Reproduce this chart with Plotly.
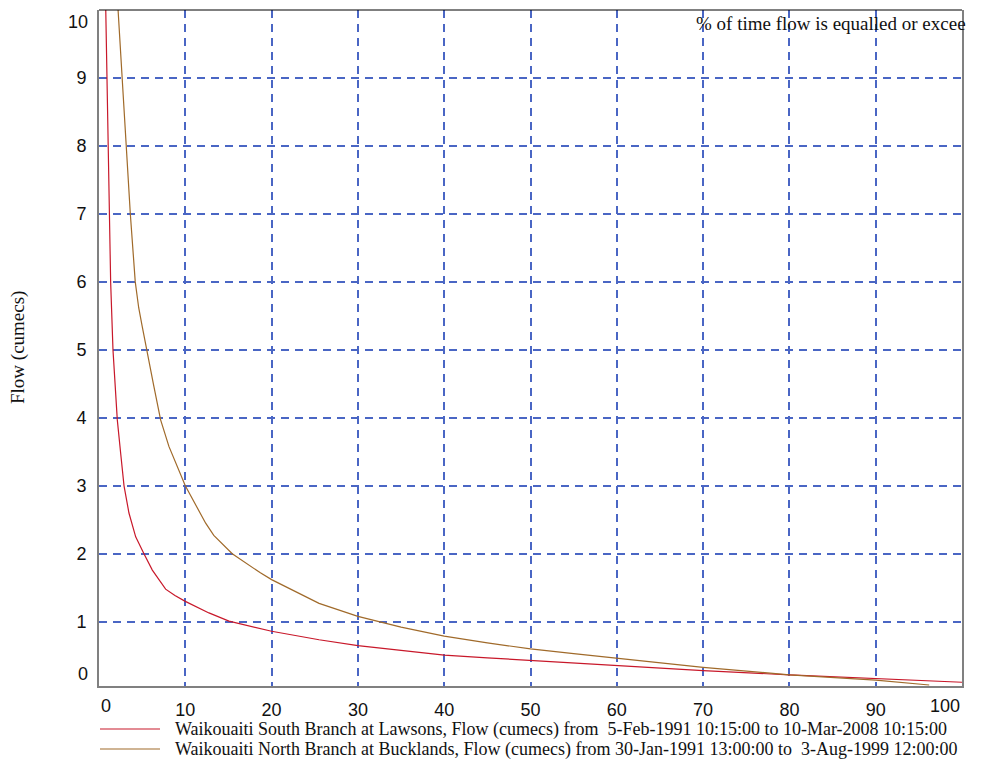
import plotly.graph_objects as go

# ---- data ----
south_name = "Waikouaiti South Branch at Lawsons, Flow (cumecs) from \u00a05-Feb-1991 10:15:00 to 10-Mar-2008 10:15:00"
north_name = "Waikouaiti North Branch at Bucklands, Flow (cumecs) from 30-Jan-1991 13:00:00 to \u00a03-Aug-1999 12:00:00"

south_pct = [0.5, 0.8, 0.92, 1.03, 1.19, 1.35, 1.62, 2.12, 2.51, 2.9, 3.47, 4.25, 5.21, 6.18, 7.72, 8.8, 10,
             12.74, 15.06, 20, 25.5, 30, 35, 40, 45, 50, 60, 70, 80, 90, 95, 98, 100]
south_flow = [12, 10, 9, 8, 7, 6, 5, 3.97, 3.48, 3.0, 2.6, 2.25, 2.0, 1.76, 1.48, 1.385, 1.3,
              1.13, 1.01, 0.86, 0.735, 0.65, 0.58, 0.51, 0.47, 0.43, 0.35, 0.28, 0.22, 0.17, 0.145, 0.13, 0.11]

north_pct = [1.5, 2.2, 2.67, 3.16, 3.63, 4.2, 4.6, 5.0, 5.5, 6.3, 7.14, 7.7, 8.1, 10, 12.36, 13.3, 15.44,
             18.7, 20, 25.5, 30, 35, 40, 45, 50, 55, 60, 70, 80, 85, 90, 96.2]
north_flow = [11.5, 10, 9, 8, 7, 6, 5.62, 5.35, 5, 4.5, 3.97, 3.73, 3.58, 3.0, 2.45, 2.27, 2.0,
              1.72, 1.62, 1.27, 1.08, 0.92, 0.79, 0.69, 0.60, 0.53, 0.46, 0.33, 0.22, 0.18, 0.14, 0.07]

x_ticks = [10, 20, 30, 40, 50, 60, 70, 80, 90]
y_ticks = [1, 2, 3, 4, 5, 6, 7, 8, 9]

red = "#c8182a"
brown = "#a06a2a"
grid = "#4a66c4"
serif = "Liberation Serif, Times New Roman, serif"
sans = "Liberation Sans, Arial, sans-serif"

fig = go.Figure()
fig.add_trace(go.Scatter(x=south_pct, y=south_flow, mode="lines", name=south_name,
                         line=dict(color=red, width=1.2), showlegend=False))
fig.add_trace(go.Scatter(x=north_pct, y=north_flow, mode="lines", name=north_name,
                         line=dict(color=brown, width=1.2), showlegend=False))

# the page body adds an 8px offset, so the figure is sized to the remaining window
OFF = 8
W, H = 979, 752
L, T = 91, 2
PW, PH = 863, 676
R, B = W - L - PW, H - T - PH

def px(xp):  # window pixel -> paper x
    return (xp - OFF - L) / PW

def py(yp):  # window pixel -> paper y
    return (T + PH - (yp - OFF)) / PH

fig.update_layout(
    width=W, height=H,
    margin=dict(l=L, r=R, t=T, b=B, pad=0),
    paper_bgcolor="white", plot_bgcolor="white",
    font=dict(family=sans, size=18, color="#111"),
    xaxis=dict(range=[0, 100], tickvals=x_ticks, showgrid=True, gridcolor=grid,
               gridwidth=1.5, griddash="8px,6px", zeroline=False, showline=True,
               linecolor="#808080", linewidth=2, ticks="", ticklabelstandoff=6,
               tickfont=dict(family=sans, size=18, color="#111")),
    yaxis=dict(range=[0.055, 10], tickvals=y_ticks, showgrid=True, gridcolor=grid,
               gridwidth=1.5, griddash="8px,6px", zeroline=False, showline=True,
               linecolor="#808080", linewidth=2, mirror=True, ticks="",
               ticklabelstandoff=7,
               tickfont=dict(family=sans, size=18, color="#111")),
    showlegend=False,
)

# top border (thin black)
fig.add_shape(type="line", xref="paper", yref="paper", x0=0, x1=1, y0=1, y1=1,
              line=dict(color="black", width=1))

# edge tick labels (kept inside the plot like the reference)
fig.add_annotation(text="0", xref="x", yref="paper", x=0, y=0, xanchor="left", yanchor="top",
                   yshift=-8, showarrow=False, font=dict(family=sans, size=18, color="#111"))
fig.add_annotation(text="100", xref="x", yref="paper", x=100, y=0, xanchor="right", yanchor="top",
                   yshift=-8, showarrow=False, font=dict(family=sans, size=18, color="#111"))
fig.add_annotation(text="0", xref="paper", yref="paper", x=0, y=0, xanchor="right", yanchor="bottom",
                   xshift=-9, showarrow=False, font=dict(family=sans, size=18, color="#111"))
fig.add_annotation(text="10", xref="paper", yref="paper", x=0, y=1, xanchor="right", yanchor="top",
                   xshift=-9, showarrow=False, font=dict(family=sans, size=18, color="#111"))

# axis titles
fig.add_annotation(text="% of time flow is equalled or excee", xref="paper", yref="paper",
                   x=px(694), y=py(23), xanchor="left", yanchor="middle", showarrow=False,
                   font=dict(family=serif, size=19, color="#111"))
fig.add_annotation(text="Flow (cumecs)", xref="paper", yref="paper", x=px(18), y=py(348),
                   textangle=-90, xanchor="center", yanchor="middle", showarrow=False,
                   font=dict(family=serif, size=19, color="#111"))

# legend (drawn manually to match the long line samples)
for name, col, yy in [(south_name, red, 729), (north_name, brown, 749)]:
    fig.add_shape(type="line", xref="paper", yref="paper", x0=px(100), x1=px(160),
                  y0=py(yy), y1=py(yy), line=dict(color=col, width=1.2))
    fig.add_annotation(text=name, xref="paper", yref="paper", x=px(173), y=py(yy),
                       xanchor="left", yanchor="middle", showarrow=False,
                       font=dict(family=serif, size=18, color="#111"))

fig.write_html("out.html")
